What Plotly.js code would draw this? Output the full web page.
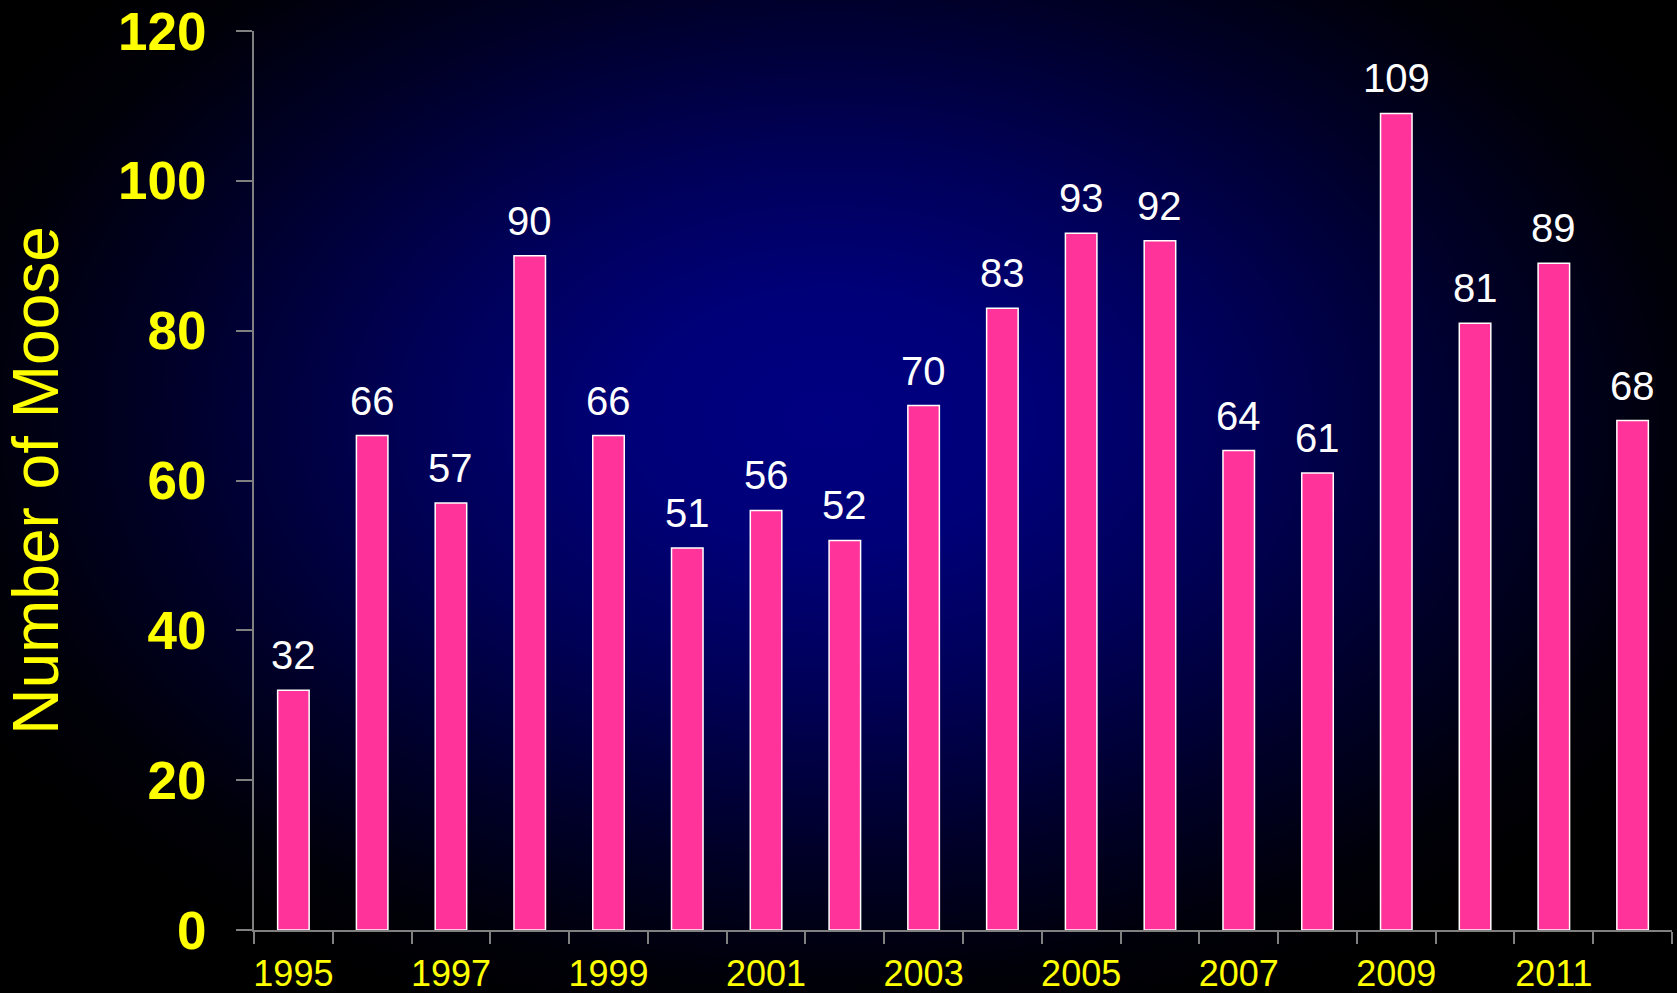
<!DOCTYPE html>
<html>
<head>
<meta charset="utf-8">
<script src="https://cdn.plot.ly/plotly-3.0.1.min.js"></script>
<style>
  html, body { margin: 0; padding: 0; width: 1677px; height: 993px; overflow: hidden; }
  body { background: #000; }
  #bg { position: absolute; left: 0; top: 0; width: 1677px; height: 993px;
        background: radial-gradient(ellipse 980px 640px at 830px 420px, #000082 0%, #000078 20%, #000058 42%, #000028 68%, #000008 88%, #000000 100%); }
  #chart { position: absolute; left: 0; top: 0; width: 1677px; height: 993px; }
</style>
</head>
<body>
<div id="bg"></div>
<div id="chart"></div>
<script>
const years = ["1995","1996","1997","1998","1999","2000","2001","2002","2003","2004","2005","2006","2007","2008","2009","2010","2011","2012"];
const moose = [32, 66, 57, 90, 66, 51, 56, 52, 70, 83, 93, 92, 64, 61, 109, 81, 89, 68];
const tickLabels = ["1995","","1997","","1999","","2001","","2003","","2005","","2007","","2009","","2011",""];
const yTicks = [0, 20, 40, 60, 80, 100, 120];

const idx = years.map((_, i) => i);

const trace = {
  type: 'bar',
  x: years,
  y: moose,
  marker: { color: '#FF3399', line: { color: '#FFFFFF', width: 1.5 } },
  hoverinfo: 'x+y'
};

const annotations = idx.map(i => ({
  x: i, y: moose[i], xref: 'x', yref: 'y',
  text: String(moose[i]), showarrow: false,
  yanchor: 'bottom', xanchor: 'center', yshift: 11,
  font: { family: 'Liberation Sans, Arial, sans-serif', size: 40, color: '#FFFFFF' }
}));

const layout = {
  width: 1677, height: 993,
  margin: { l: 254, r: 5, t: 31, b: 63 },
  paper_bgcolor: 'rgba(0,0,0,0)',
  plot_bgcolor: 'rgba(0,0,0,0)',
  showlegend: false,
  bargap: 0.6,
  xaxis: {
    type: 'category',
    range: [-0.5, years.length - 0.5],
    tickmode: 'array', tickvals: idx, ticktext: tickLabels,
    tickson: 'boundaries',
    ticks: 'outside', ticklen: 12, tickwidth: 2, tickcolor: '#808080',
    showline: true, linecolor: '#808080', linewidth: 2,
    showgrid: false, zeroline: false,
    tickangle: 0,
    ticklabelstandoff: 11,
    tickfont: { family: 'Liberation Sans, Arial, sans-serif', size: 36, color: '#FFFF00' },
    fixedrange: true
  },
  yaxis: {
    range: [0, 120],
    tickmode: 'array', tickvals: yTicks, ticktext: yTicks.map(String),
    ticks: 'outside', ticklen: 16, tickwidth: 2, tickcolor: '#808080',
    showline: true, linecolor: '#808080', linewidth: 2,
    showgrid: false, zeroline: false,
    ticklabelstandoff: 19,
    tickfont: { family: 'Liberation Sans, Arial, sans-serif', size: 53, color: '#FFFF00', weight: 'bold' },
    title: { text: 'Number of Moose', standoff: 40,
             font: { family: 'Liberation Sans, Arial, sans-serif', size: 64, color: '#FFFF00' } },
    fixedrange: true
  },
  annotations: annotations
};

Plotly.newPlot('chart', [trace], layout, { displayModeBar: false, staticPlot: true });
</script>
</body>
</html>
